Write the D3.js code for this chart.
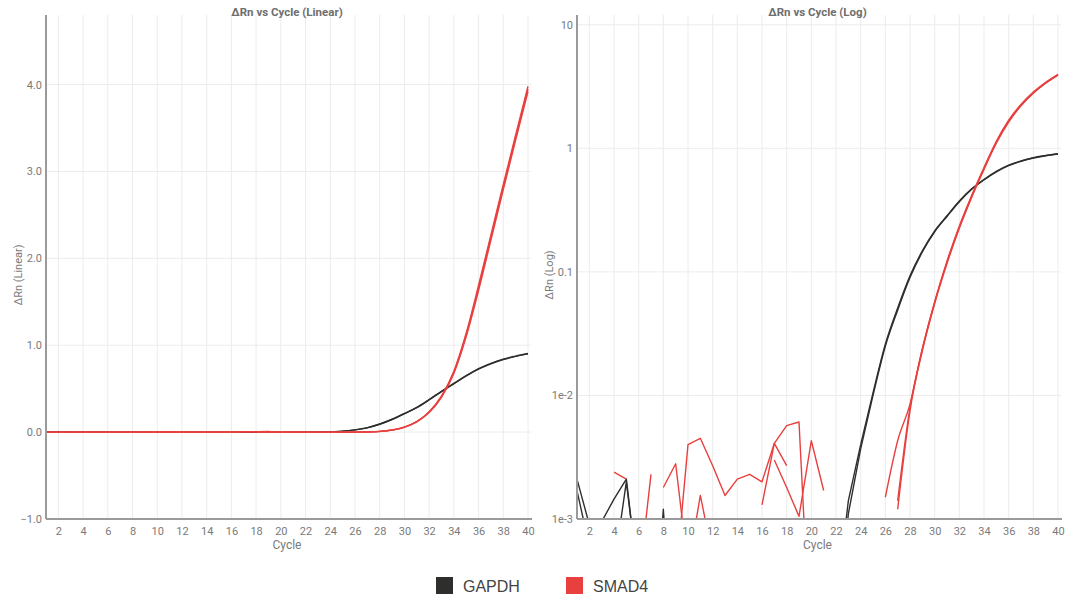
<!DOCTYPE html>
<html>
<head>
<meta charset="utf-8">
<script src="https://cdn.jsdelivr.net/npm/d3@7"></script>
<style>
  body { margin: 0; background: #fff; }
  svg { display: block; font-family: Roboto, "Noto Sans", sans-serif; }
</style>
</head>
<body>
<svg id="chart" width="1066" height="597"></svg>
<script>
// cycles 1..40
const cycles = d3.range(1, 41);

// GAPDH replicates (ΔRn per cycle)
const gapdh1 = [0.0021, 0.0009, 0.00095, 0.00145, 0.0021, 0.0003, 0.00005, 0.0012, 0.00004, -0.001,
  -0.002, -0.001, -0.0015, -0.002, -0.001, -0.0005, -0.001, -0.002, -0.001, -0.0015,
  -0.001, 0.0002, 0.0014, 0.0040, 0.0105, 0.026, 0.051, 0.093, 0.148, 0.215,
  0.285, 0.375, 0.47, 0.56, 0.65, 0.73, 0.79, 0.84, 0.875, 0.905];
const gapdh2 = [0.0017, 0.0006, -0.001, 0.0004, 0.0020, 0.0003, -0.001, -0.002, -0.001, -0.0015,
  -0.001, -0.002, -0.001, -0.0005, -0.001, -0.002, -0.0015, -0.001, -0.002, -0.001,
  -0.0005, 0.0001, 0.0011, 0.0037, 0.0100, 0.025, 0.049, 0.090, 0.145, 0.211,
  0.281, 0.37, 0.466, 0.556, 0.646, 0.725, 0.786, 0.835, 0.872, 0.900];

// SMAD4 replicates
const smad1 = [-0.001, -0.002, -0.001, 0.0024, 0.0021, -0.001, -0.0005, -0.001, 0.00032, 0.0040,
  0.0045, 0.0027, 0.00155, 0.0021, 0.0023, 0.0020, 0.0041, 0.0057, 0.0061, 0.000065,
  -0.001, -0.002, -0.001, -0.0015, -0.001, 0.0015, 0.0043, 0.0085, 0.024, 0.0575,
  0.12, 0.23, 0.41, 0.69, 1.12, 1.66, 2.24, 2.82, 3.39, 3.95];
const smad2 = [-0.002, -0.001, -0.0015, -0.001, -0.002, 0.0003, 0.0023, -0.001, -0.002, -0.001,
  -0.0015, -0.001, -0.002, -0.001, -0.0005, -0.001, 0.0030, 0.0018, 0.00105, 0.0043,
  0.0017, -0.001, -0.002, -0.001, -0.0015, -0.001, 0.0012, 0.0075, 0.023, 0.0555,
  0.117, 0.225, 0.40, 0.675, 1.10, 1.63, 2.21, 2.79, 3.36, 3.92];
const smad3 = [-0.001, -0.0015, -0.002, -0.001, -0.001, -0.002, -0.001, 0.0018, 0.0028, 0.0004,
  0.00155, 0.0005, -0.001, -0.002, -0.001, 0.0013, 0.0041, 0.0027, -0.001, -0.002,
  -0.001, -0.0015, -0.001, -0.002, -0.001, -0.0015, 0.0014, 0.0080, 0.0235, 0.0565,
  0.122, 0.235, 0.415, 0.70, 1.14, 1.69, 2.27, 2.85, 3.42, 3.98];

const series = [
  { gene: "GAPDH", values: gapdh1 },
  { gene: "GAPDH", values: gapdh2 },
  { gene: "SMAD4", values: smad1 },
  { gene: "SMAD4", values: smad2 },
  { gene: "SMAD4", values: smad3 }
];

const genes = ["GAPDH", "SMAD4"];
const geneColors = ["#2e2e2c", "#e8403f"];

const xTicks = d3.range(2, 41, 2);
const linTicks = [-1, 0, 1, 2, 3, 4];
const logTicks = [1e-3, 1e-2, 0.1, 1, 10];
const logTickLabels = ["1e-3", "1e-2", "0.1", "1", "10"];

const color = d3.scaleOrdinal().domain(genes).range(geneColors);
const svg = d3.select("#chart");

function drawChart(cfg) {
  const g = svg.append("g");
  const x = d3.scaleLinear().domain([1, 40]).range([cfg.left, cfg.right]);
  const y = cfg.yScale;
  const top = 15, bottom = 519;

  // grid
  g.append("g").selectAll("line").data(xTicks).join("line")
    .attr("x1", d => x(d)).attr("x2", d => x(d))
    .attr("y1", top).attr("y2", bottom)
    .attr("stroke", "#ececec").attr("stroke-width", 1);
  g.append("g").selectAll("line").data(cfg.yTicks).join("line")
    .attr("x1", cfg.left).attr("x2", cfg.right + 3)
    .attr("y1", d => y(d)).attr("y2", d => y(d))
    .attr("stroke", "#ececec").attr("stroke-width", 1);

  // lines
  const clipId = "clip" + cfg.id;
  svg.append("clipPath").attr("id", clipId).append("rect")
    .attr("x", cfg.left).attr("y", top).attr("width", cfg.right - cfg.left + 4).attr("height", bottom - top);

  const lineOf = curve => d3.line()
    .defined(d => cfg.log ? d[1] > 0 : true)
    .x(d => x(d[0]))
    .y(d => y(d[1]))
    .curve(curve);

  // log view: straight segments for the noisy baseline, smooth for amplification
  const pieces = [];
  series.forEach(s => {
    const pts = cycles.map((c, i) => [c, s.values[i]]);
    if (cfg.log) {
      pieces.push({ gene: s.gene, pts: pts.slice(0, 24), curve: d3.curveLinear });
      pieces.push({ gene: s.gene, pts: pts.slice(23), curve: d3.curveMonotoneX });
    } else {
      pieces.push({ gene: s.gene, pts: pts, curve: d3.curveMonotoneX });
    }
  });

  g.append("g").attr("clip-path", `url(#${clipId})`)
    .selectAll("path").data(pieces).join("path")
    .attr("d", p => lineOf(p.curve)(p.pts))
    .attr("fill", "none")
    .attr("stroke", p => color(p.gene))
    .attr("stroke-width", 1.4)
    .attr("stroke-linejoin", "round");

  // axes
  const xAxis = g.append("g").attr("transform", `translate(0,${bottom})`)
    .call(d3.axisBottom(x).tickValues(xTicks).tickSize(0).tickPadding(8));
  xAxis.select(".domain").remove();
  g.append("line").attr("x1", cfg.left).attr("x2", cfg.right + 4)
    .attr("y1", bottom).attr("y2", bottom).attr("stroke", "#9a9a9a").attr("stroke-width", 2);

  const yAxis = g.append("g").attr("transform", `translate(${cfg.left},0)`)
    .call(d3.axisLeft(y).tickValues(cfg.yTicks).tickFormat(cfg.fmt).tickSize(0).tickPadding(4));
  yAxis.select(".domain").remove();
  g.append("line").attr("x1", cfg.left).attr("x2", cfg.left)
    .attr("y1", top).attr("y2", bottom).attr("stroke", "#9a9a9a").attr("stroke-width", 2);

  g.selectAll(".tick text").attr("fill", "#7a7a7a").style("font-size", "11px")
    .style("font-family", "Roboto, sans-serif");

  const mid = (cfg.left + cfg.right) / 2;
  g.append("text").attr("x", mid).attr("y", 16).attr("text-anchor", "middle")
    .attr("fill", "#6e6e6e").style("font-size", "11.5px").style("font-weight", "bold")
    .text(cfg.title);
  g.append("text").attr("x", mid).attr("y", 549).attr("text-anchor", "middle")
    .attr("fill", "#7a7a7a").style("font-size", "12px").text("Cycle");
  g.append("text").attr("transform", `translate(${cfg.left - 24},275) rotate(-90)`)
    .attr("text-anchor", "middle")
    .attr("fill", "#7a7a7a").style("font-size", "11px").text(cfg.yLabel);
}

drawChart({
  id: "lin", left: 46, right: 528, log: false,
  yScale: d3.scaleLinear().domain([-1, 4.8]).range([519, 15]),
  yTicks: linTicks, fmt: d3.format(".1f"),
  title: "ΔRn vs Cycle (Linear)", yLabel: "ΔRn (Linear)"
});

drawChart({
  id: "log", left: 577, right: 1058, log: true,
  yScale: d3.scaleLog().domain([1e-3, 12]).range([519, 15]),
  yTicks: logTicks, fmt: (d, i) => logTickLabels[i],
  title: "ΔRn vs Cycle (Log)", yLabel: "ΔRn (Log)"
});

// legend
const legend = svg.append("g").selectAll("g").data(genes).join("g")
  .attr("transform", (d, i) => `translate(${436 + i * 130},577)`);
legend.append("rect").attr("width", 17).attr("height", 17).attr("fill", d => color(d));
legend.append("text").attr("x", 27).attr("y", 14.5)
  .attr("fill", "#444").style("font-family", "'Liberation Sans', Arial, sans-serif")
  .style("font-size", "16px").text(d => d);
</script>
</body>
</html>
